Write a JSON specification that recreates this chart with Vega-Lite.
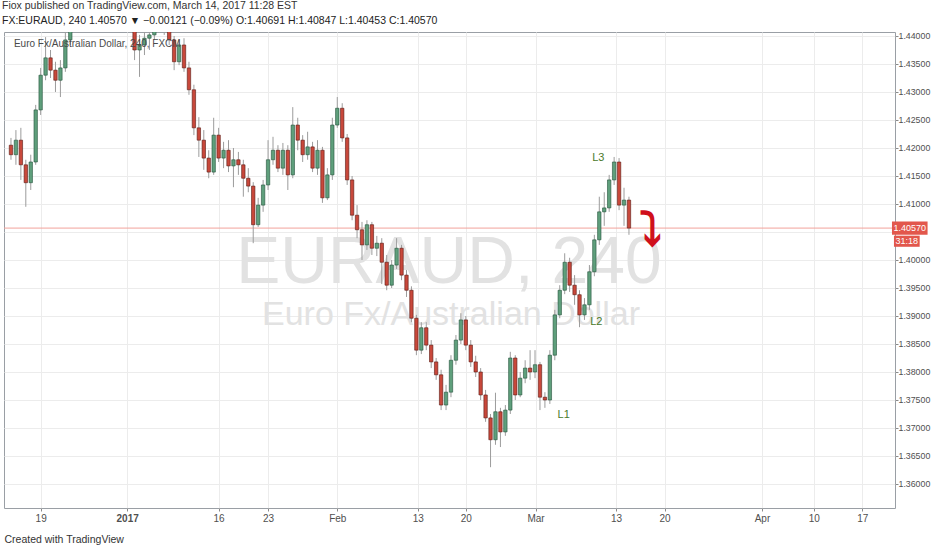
{
  "$schema": "https://vega.github.io/schema/vega-lite/v6.json",
  "width": 891,
  "height": 476,
  "autosize": {"type": "none"},
  "padding": {"left": 4, "top": 32, "right": 37, "bottom": 42},
  "background": "white",
  "title": {
    "text": "Fiox published on TradingView.com, March 14, 2017 11:28 EST",
    "subtitle": "FX:EURAUD, 240  1.40570 ▼ −0.00121 (−0.09%)  O:1.40691  H:1.40847  L:1.40453  C:1.40570",
    "anchor": "start",
    "frame": "group",
    "font": "Liberation Sans",
    "fontSize": 10.5,
    "fontWeight": "normal",
    "color": "#333333",
    "subtitleFont": "Liberation Sans",
    "subtitleFontSize": 10.5,
    "subtitleColor": "#222222",
    "subtitlePadding": 5,
    "offset": 5,
    "dx": -2
  },
  "resolve": {"axis": {"x": "independent", "y": "independent"}},
  "config": {
    "view": {"stroke": "#9a9fa5", "strokeWidth": 1},
    "font": "Liberation Sans",
    "axis": {
      "labelFont": "Liberation Sans",
      "labelFontSize": 10,
      "labelColor": "#4f4f4f",
      "tickColor": "#8a8a8a",
      "gridColor": "#ececec",
      "domain": false
    }
  },
  "datasets": {
    "candles": [
      {"i":0,"o":1.4205,"h":1.4218,"l":1.4179,"c":1.4188},
      {"i":1,"o":1.4188,"h":1.4232,"l":1.4170,"c":1.4214},
      {"i":2,"o":1.4214,"h":1.4236,"l":1.4143,"c":1.4170},
      {"i":3,"o":1.4170,"h":1.4179,"l":1.4095,"c":1.4138},
      {"i":4,"o":1.4138,"h":1.4188,"l":1.4125,"c":1.4175},
      {"i":5,"o":1.4175,"h":1.4277,"l":1.4170,"c":1.4268},
      {"i":6,"o":1.4268,"h":1.4343,"l":1.4259,"c":1.4330},
      {"i":7,"o":1.4330,"h":1.4398,"l":1.4321,"c":1.4361},
      {"i":8,"o":1.4361,"h":1.4375,"l":1.4325,"c":1.4339},
      {"i":9,"o":1.4339,"h":1.4354,"l":1.4300,"c":1.4321},
      {"i":10,"o":1.4321,"h":1.4357,"l":1.4291,"c":1.4343},
      {"i":11,"o":1.4343,"h":1.4420,"l":1.4336,"c":1.4393},
      {"i":12,"o":1.4393,"h":1.4455,"l":1.4384,"c":1.4438},
      {"i":13,"o":1.4438,"h":1.4486,"l":1.4430,"c":1.4473},
      {"i":14,"o":1.4473,"h":1.4504,"l":1.4468,"c":1.4491},
      {"i":15,"o":1.4491,"h":1.4500,"l":1.4464,"c":1.4482},
      {"i":16,"o":1.4482,"h":1.4518,"l":1.4473,"c":1.4509},
      {"i":17,"o":1.4509,"h":1.4521,"l":1.4482,"c":1.4500},
      {"i":18,"o":1.4500,"h":1.4504,"l":1.4464,"c":1.4482},
      {"i":19,"o":1.4482,"h":1.4509,"l":1.4470,"c":1.4491},
      {"i":20,"o":1.4491,"h":1.4496,"l":1.4450,"c":1.4464},
      {"i":21,"o":1.4464,"h":1.4486,"l":1.4446,"c":1.4473},
      {"i":22,"o":1.4473,"h":1.4479,"l":1.4432,"c":1.4446},
      {"i":23,"o":1.4446,"h":1.4464,"l":1.4420,"c":1.4438},
      {"i":24,"o":1.4438,"h":1.4455,"l":1.4414,"c":1.4429},
      {"i":25,"o":1.4429,"h":1.4438,"l":1.4357,"c":1.4375},
      {"i":26,"o":1.4375,"h":1.4402,"l":1.4327,"c":1.4384},
      {"i":27,"o":1.4384,"h":1.4414,"l":1.4366,"c":1.4396},
      {"i":28,"o":1.4396,"h":1.4420,"l":1.4375,"c":1.4402},
      {"i":29,"o":1.4402,"h":1.4455,"l":1.4393,"c":1.4429},
      {"i":30,"o":1.4429,"h":1.4464,"l":1.4411,"c":1.4438},
      {"i":31,"o":1.4438,"h":1.4455,"l":1.4402,"c":1.4420},
      {"i":32,"o":1.4420,"h":1.4429,"l":1.4384,"c":1.4393},
      {"i":33,"o":1.4393,"h":1.4400,"l":1.4339,"c":1.4354},
      {"i":34,"o":1.4354,"h":1.4393,"l":1.4348,"c":1.4384},
      {"i":35,"o":1.4384,"h":1.4396,"l":1.4336,"c":1.4343},
      {"i":36,"o":1.4343,"h":1.4354,"l":1.4295,"c":1.4304},
      {"i":37,"o":1.4304,"h":1.4313,"l":1.4223,"c":1.4236},
      {"i":38,"o":1.4236,"h":1.4255,"l":1.4184,"c":1.4214},
      {"i":39,"o":1.4214,"h":1.4232,"l":1.4161,"c":1.4182},
      {"i":40,"o":1.4182,"h":1.4196,"l":1.4146,"c":1.4157},
      {"i":41,"o":1.4157,"h":1.4254,"l":1.4152,"c":1.4223},
      {"i":42,"o":1.4223,"h":1.4236,"l":1.4175,"c":1.4182},
      {"i":43,"o":1.4182,"h":1.4211,"l":1.4164,"c":1.4196},
      {"i":44,"o":1.4196,"h":1.4214,"l":1.4157,"c":1.4168},
      {"i":45,"o":1.4168,"h":1.4200,"l":1.4130,"c":1.4179},
      {"i":46,"o":1.4179,"h":1.4193,"l":1.4152,"c":1.4170},
      {"i":47,"o":1.4170,"h":1.4179,"l":1.4113,"c":1.4146},
      {"i":48,"o":1.4146,"h":1.4164,"l":1.4121,"c":1.4132},
      {"i":49,"o":1.4132,"h":1.4139,"l":1.4030,"c":1.4063},
      {"i":50,"o":1.4063,"h":1.4111,"l":1.4059,"c":1.4098},
      {"i":51,"o":1.4098,"h":1.4143,"l":1.4086,"c":1.4134},
      {"i":52,"o":1.4134,"h":1.4214,"l":1.4125,"c":1.4179},
      {"i":53,"o":1.4179,"h":1.4220,"l":1.4170,"c":1.4196},
      {"i":54,"o":1.4196,"h":1.4205,"l":1.4157,"c":1.4164},
      {"i":55,"o":1.4164,"h":1.4209,"l":1.4152,"c":1.4196},
      {"i":56,"o":1.4196,"h":1.4205,"l":1.4125,"c":1.4152},
      {"i":57,"o":1.4152,"h":1.4273,"l":1.4146,"c":1.4241},
      {"i":58,"o":1.4241,"h":1.4254,"l":1.4196,"c":1.4214},
      {"i":59,"o":1.4214,"h":1.4223,"l":1.4175,"c":1.4188},
      {"i":60,"o":1.4188,"h":1.4229,"l":1.4179,"c":1.4202},
      {"i":61,"o":1.4202,"h":1.4211,"l":1.4157,"c":1.4164},
      {"i":62,"o":1.4164,"h":1.4214,"l":1.4152,"c":1.4196},
      {"i":63,"o":1.4196,"h":1.4202,"l":1.4102,"c":1.4111},
      {"i":64,"o":1.4111,"h":1.4164,"l":1.4107,"c":1.4152},
      {"i":65,"o":1.4152,"h":1.4254,"l":1.4143,"c":1.4241},
      {"i":66,"o":1.4241,"h":1.4291,"l":1.4236,"c":1.4271},
      {"i":67,"o":1.4271,"h":1.4280,"l":1.4211,"c":1.4218},
      {"i":68,"o":1.4218,"h":1.4225,"l":1.4134,"c":1.4143},
      {"i":69,"o":1.4143,"h":1.4150,"l":1.4071,"c":1.4080},
      {"i":70,"o":1.4080,"h":1.4098,"l":1.4039,"c":1.4054},
      {"i":71,"o":1.4054,"h":1.4068,"l":1.4000,"c":1.4027},
      {"i":72,"o":1.4027,"h":1.4071,"l":1.4018,"c":1.4063},
      {"i":73,"o":1.4063,"h":1.4068,"l":1.4009,"c":1.4021},
      {"i":74,"o":1.4021,"h":1.4043,"l":1.4007,"c":1.4030},
      {"i":75,"o":1.4030,"h":1.4039,"l":1.3957,"c":1.3996},
      {"i":76,"o":1.3996,"h":1.4009,"l":1.3946,"c":1.3955},
      {"i":77,"o":1.3955,"h":1.4000,"l":1.3950,"c":1.3991},
      {"i":78,"o":1.3991,"h":1.4039,"l":1.3984,"c":1.4021},
      {"i":79,"o":1.4021,"h":1.4027,"l":1.3964,"c":1.3973},
      {"i":80,"o":1.3973,"h":1.3982,"l":1.3934,"c":1.3946},
      {"i":81,"o":1.3946,"h":1.3953,"l":1.3889,"c":1.3896},
      {"i":82,"o":1.3896,"h":1.3902,"l":1.3830,"c":1.3839},
      {"i":83,"o":1.3839,"h":1.3889,"l":1.3832,"c":1.3879},
      {"i":84,"o":1.3879,"h":1.3889,"l":1.3839,"c":1.3848},
      {"i":85,"o":1.3848,"h":1.3857,"l":1.3807,"c":1.3818},
      {"i":86,"o":1.3818,"h":1.3825,"l":1.3786,"c":1.3795},
      {"i":87,"o":1.3795,"h":1.3804,"l":1.3732,"c":1.3741},
      {"i":88,"o":1.3741,"h":1.3777,"l":1.3732,"c":1.3764},
      {"i":89,"o":1.3764,"h":1.3830,"l":1.3755,"c":1.3821},
      {"i":90,"o":1.3821,"h":1.3866,"l":1.3813,"c":1.3857},
      {"i":91,"o":1.3857,"h":1.3905,"l":1.3850,"c":1.3893},
      {"i":92,"o":1.3893,"h":1.3900,"l":1.3839,"c":1.3848},
      {"i":93,"o":1.3848,"h":1.3857,"l":1.3809,"c":1.3818},
      {"i":94,"o":1.3818,"h":1.3829,"l":1.3791,"c":1.3800},
      {"i":95,"o":1.3800,"h":1.3807,"l":1.3750,"c":1.3759},
      {"i":96,"o":1.3759,"h":1.3768,"l":1.3711,"c":1.3718},
      {"i":97,"o":1.3718,"h":1.3725,"l":1.3630,"c":1.3679},
      {"i":98,"o":1.3679,"h":1.3763,"l":1.3670,"c":1.3729},
      {"i":99,"o":1.3729,"h":1.3736,"l":1.3666,"c":1.3693},
      {"i":100,"o":1.3693,"h":1.3741,"l":1.3686,"c":1.3732},
      {"i":101,"o":1.3732,"h":1.3836,"l":1.3725,"c":1.3825},
      {"i":102,"o":1.3825,"h":1.3830,"l":1.3750,"c":1.3759},
      {"i":103,"o":1.3759,"h":1.3800,"l":1.3755,"c":1.3789},
      {"i":104,"o":1.3789,"h":1.3821,"l":1.3780,"c":1.3807},
      {"i":105,"o":1.3807,"h":1.3839,"l":1.3786,"c":1.3800},
      {"i":106,"o":1.3800,"h":1.3839,"l":1.3789,"c":1.3813},
      {"i":107,"o":1.3813,"h":1.3818,"l":1.3732,"c":1.3755},
      {"i":108,"o":1.3755,"h":1.3764,"l":1.3736,"c":1.3750},
      {"i":109,"o":1.3750,"h":1.3839,"l":1.3743,"c":1.3830},
      {"i":110,"o":1.3830,"h":1.3911,"l":1.3821,"c":1.3902},
      {"i":111,"o":1.3902,"h":1.3955,"l":1.3896,"c":1.3946},
      {"i":112,"o":1.3946,"h":1.4012,"l":1.3939,"c":1.3996},
      {"i":113,"o":1.3996,"h":1.4004,"l":1.3943,"c":1.3955},
      {"i":114,"o":1.3955,"h":1.3973,"l":1.3920,"c":1.3938},
      {"i":115,"o":1.3938,"h":1.3946,"l":1.3880,"c":1.3902},
      {"i":116,"o":1.3902,"h":1.3932,"l":1.3893,"c":1.3920},
      {"i":117,"o":1.3920,"h":1.3991,"l":1.3911,"c":1.3979},
      {"i":118,"o":1.3979,"h":1.4045,"l":1.3971,"c":1.4036},
      {"i":119,"o":1.4036,"h":1.4113,"l":1.4027,"c":1.4086},
      {"i":120,"o":1.4086,"h":1.4121,"l":1.4061,"c":1.4093},
      {"i":121,"o":1.4093,"h":1.4152,"l":1.4086,"c":1.4143},
      {"i":122,"o":1.4143,"h":1.4184,"l":1.4134,"c":1.4175},
      {"i":123,"o":1.4175,"h":1.4182,"l":1.4089,"c":1.4098},
      {"i":124,"o":1.4098,"h":1.4129,"l":1.4061,"c":1.4107},
      {"i":125,"o":1.4107,"h":1.4113,"l":1.4045,"c":1.4057}
    ],
    "wm1": [{"i": 88.6, "p": 1.3959, "t": "EURAUD, 240"}],
    "wm2": [{"i": 89.0, "p": 1.3884, "t": "Euro Fx/Australian Dollar"}],
    "legend": [{"i": 0.6, "p": 1.4381, "t": "Euro Fx/Australian Dollar, 240, FXCM"}],
    "notes": [
      {"i": 111.8, "p": 1.3723, "t": "L1"},
      {"i": 118.4, "p": 1.3889, "t": "L2"},
      {"i": 118.8, "p": 1.4182, "t": "L3"}
    ],
    "arrow": [{"i": 129.4, "p": 1.4051, "t": "⤵"}],
    "last": [{"p": 1.4057, "t": "1.40570", "cd": "31:18"}]
  },
  "layer": [
    {
      "data": {"name": "wm1"},
      "mark": {"type": "text", "font": "Liberation Sans", "fontSize": 66, "color": "#e2e2e2", "align": "center", "baseline": "alphabetic"},
      "encoding": {
        "x": {"field": "i", "type": "quantitative", "axis": null},
        "y": {"field": "p", "type": "quantitative", "axis": null},
        "text": {"field": "t"}
      }
    },
    {
      "data": {"name": "wm2"},
      "mark": {"type": "text", "font": "Liberation Sans", "fontSize": 34, "color": "#e2e2e2", "align": "center", "baseline": "alphabetic"},
      "encoding": {
        "x": {"field": "i", "type": "quantitative", "axis": null},
        "y": {"field": "p", "type": "quantitative", "axis": null},
        "text": {"field": "t"}
      }
    },
    {
      "data": {"name": "last"},
      "mark": {"type": "rule", "color": "#f2a39b", "strokeWidth": 1},
      "encoding": {
        "y": {"field": "p", "type": "quantitative", "axis": null}
      }
    },
    {
      "data": {"name": "candles"},
      "mark": {"type": "rule", "color": "#9c9c9c", "strokeWidth": 1, "clip": true},
      "encoding": {
        "x": {
          "field": "i", "type": "quantitative",
          "scale": {"domain": [-0.4, 177.8], "nice": false, "zero": false},
          "axis": {
            "values": [6, 23.5, 42, 52, 66, 82.3, 92, 106.1, 122.4, 132.2, 151.9, 162.4, 172.2],
            "labelExpr": "['19','2017','16','23','Feb','13','20','Mar','13','20','Apr','10','17'][indexof([6, 23.5, 42, 52, 66, 82.3, 92, 106.1, 122.4, 132.2, 151.9, 162.4, 172.2], datum.value)]",
            "labelFontWeight": {"condition": {"test": "datum.value == 23.5", "value": "bold"}, "value": "normal"},
            "grid": true,
            "tickSize": 3,
            "labelPadding": 2,
            "labelFlush": false,
            "labelOverlap": false,
            "title": "Created with TradingView",
            "titleAnchor": "start",
            "titleAlign": "left",
            "titleX": 0,
            "titleY": 31,
            "titleBaseline": "middle",
            "titleFont": "Liberation Sans",
            "titleFontWeight": "normal",
            "titleFontSize": 10.5,
            "titleColor": "#333333"
          }
        },
        "y": {
          "field": "l", "type": "quantitative",
          "scale": {"domain": [1.355714, 1.440714], "nice": false, "zero": false},
          "axis": {
            "orient": "right",
            "values": [1.36, 1.365, 1.37, 1.375, 1.38, 1.385, 1.39, 1.395, 1.4, 1.405, 1.41, 1.415, 1.42, 1.425, 1.43, 1.435, 1.44],
            "labelExpr": "abs(datum.value - 1.405) < 0.0001 ? '' : format(datum.value, '.5f')",
            "labelFontSize": 8.8,
            "grid": true,
            "tickSize": 3,
            "labelPadding": 0,
            "labelFlush": false,
            "labelOverlap": false,
            "title": null
          }
        },
        "y2": {"field": "h"}
      }
    },
    {
      "data": {"name": "candles"},
      "mark": {"type": "bar", "size": 3.4, "strokeWidth": 0.6, "clip": true},
      "encoding": {
        "x": {"field": "i", "type": "quantitative", "axis": null},
        "y": {"field": "o", "type": "quantitative", "axis": null},
        "y2": {"field": "c"},
        "color": {"condition": {"test": "datum.c >= datum.o", "value": "#5f9f7c"}, "value": "#c8483b"},
        "stroke": {"condition": {"test": "datum.c >= datum.o", "value": "#24523a"}, "value": "#5b1a13"}
      }
    },
    {
      "data": {"name": "legend"},
      "mark": {"type": "text", "font": "Liberation Sans", "fontSize": 10, "color": "#4a4a4a", "align": "left", "baseline": "alphabetic"},
      "encoding": {
        "x": {"field": "i", "type": "quantitative", "axis": null},
        "y": {"field": "p", "type": "quantitative", "axis": null},
        "text": {"field": "t"}
      }
    },
    {
      "data": {"name": "notes"},
      "mark": {"type": "text", "font": "Liberation Sans", "fontSize": 11, "color": "#4b7a2c", "align": "center", "baseline": "middle"},
      "encoding": {
        "x": {"field": "i", "type": "quantitative", "axis": null},
        "y": {"field": "p", "type": "quantitative", "axis": null},
        "text": {"field": "t"}
      }
    },
    {
      "data": {"name": "arrow"},
      "mark": {"type": "text", "font": "DejaVu Sans", "fontSize": 46, "fontWeight": "bold", "color": "#d0101b", "align": "center", "baseline": "middle"},
      "encoding": {
        "x": {"field": "i", "type": "quantitative", "axis": null},
        "y": {"field": "p", "type": "quantitative", "axis": null},
        "text": {"field": "t"}
      }
    },
    {
      "data": {"name": "last"},
      "mark": {"type": "rect", "color": "#e2574c"},
      "encoding": {
        "x": {"datum": 178.2, "type": "quantitative", "axis": null},
        "x2": {"datum": 185.4},
        "y": {"datum": 1.40688, "type": "quantitative", "axis": null},
        "y2": {"datum": 1.40452}
      }
    },
    {
      "data": {"name": "last"},
      "mark": {"type": "rect", "color": "#e2574c"},
      "encoding": {
        "x": {"datum": 178.6, "type": "quantitative", "axis": null},
        "x2": {"datum": 183.8},
        "y": {"datum": 1.40434, "type": "quantitative", "axis": null},
        "y2": {"datum": 1.40236}
      }
    },
    {
      "data": {"name": "last"},
      "mark": {"type": "text", "font": "Liberation Sans", "fontSize": 9, "color": "white", "align": "center", "baseline": "middle"},
      "encoding": {
        "x": {"datum": 181.8, "type": "quantitative", "axis": null},
        "y": {"field": "p", "type": "quantitative", "axis": null},
        "text": {"field": "t"}
      }
    },
    {
      "data": {"name": "last"},
      "mark": {"type": "text", "font": "Liberation Sans", "fontSize": 9, "color": "white", "align": "center", "baseline": "middle"},
      "encoding": {
        "x": {"datum": 181.2, "type": "quantitative", "axis": null},
        "y": {"datum": 1.40335, "type": "quantitative", "axis": null},
        "text": {"field": "cd"}
      }
    }
  ]
}
